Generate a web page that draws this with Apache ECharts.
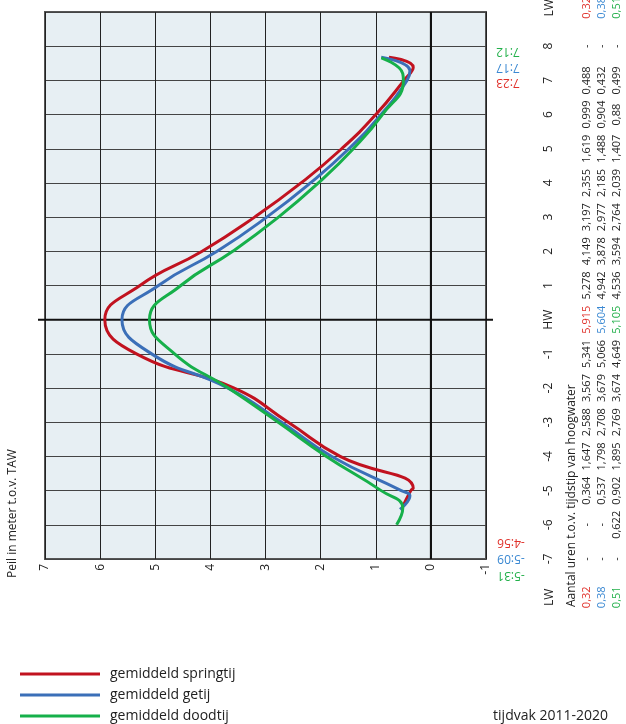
<!DOCTYPE html>
<html><head><meta charset="utf-8">
<script src="https://cdn.jsdelivr.net/npm/echarts@6/dist/echarts.min.js"></script>
<style>html,body{margin:0;padding:0;background:#fff}#c{width:626px;height:724px}</style>
</head><body><div id="c"></div>
<script>
// ---- data ----
const hours = [-7,-6,-5,-4,-3,-2,-1,0,1,2,3,4,5,6,7,8];
const hourLabels = ['-7','-6','-5','-4','-3','-2','-1','HW','1','2','3','4','5','6','7','8'];
const springtij = [null,null,0.364,1.647,2.588,3.567,5.341,5.915,5.278,4.149,3.197,2.355,1.619,0.999,0.488,null];
const getij     = [null,null,0.537,1.798,2.708,3.679,5.066,5.604,4.942,3.878,2.977,2.185,1.488,0.904,0.432,null];
const doodtij   = [null,0.622,0.902,1.895,2.769,3.674,4.649,5.105,4.536,3.594,2.764,2.039,1.407,0.88,0.499,null];
const lwValues  = [0.32, 0.38, 0.51];
const lwTimesStart = ['-4:56', '-5:09', '-5:31'];
const lwTimesEnd   = ['7:23', '7:17', '7:12'];
// estimated curve ends [hour, peil]
const curveStart = [[-5.5, 0.52], [-5.55, 0.56], null];
const curveEnd   = [[7.68, 0.76], [7.68, 0.9], [7.66, 0.9]];
const seriesNames = ['gemiddeld springtij','gemiddeld getij','gemiddeld doodtij'];
const lineColors = ['#c1121f','#3b6fb8','#16b04a'];
const textColors = ['#e0302a','#3a88d2','#22b04a'];

function parseT(t){ const s = t.trim().startsWith('-') ? -1 : 1; const p = t.replace('-','').split(':'); return s*(+p[0] + (+p[1])/60); }
function fmt(v){ return v == null ? '-' : String(v).replace('.', ','); }

const rows = [springtij, getij, doodtij];
function buildCurve(i){
  const pts = [];
  rows[i].forEach((v,k)=>{ if(v!=null) pts.push([v, hours[k]]); });
  pts.push([lwValues[i], parseT(lwTimesStart[i])]);
  pts.push([lwValues[i], parseT(lwTimesEnd[i])]);
  if (curveStart[i]) pts.push([curveStart[i][1], curveStart[i][0]]);
  if (curveEnd[i]) pts.push([curveEnd[i][1], curveEnd[i][0]]);
  pts.sort((a,b)=>a[1]-b[1]);
  return pts;
}

const FONT = "'Open Sans', 'Noto Sans', sans-serif";
const chart = echarts.init(document.getElementById('c'), null, {renderer:'canvas'});
const option = {
  animation: false,
  textStyle: {fontFamily: FONT},
  grid: {left: 45, right: 140, top: 12, bottom: 165, show: true, backgroundColor: '#e7eff3', borderColor: '#555', borderWidth: 2},
  xAxis: {
    type: 'value', min: -1, max: 7, interval: 1, inverse: true,
    axisLine: {show: false}, axisTick: {show: false},
    axisLabel: {rotate: 90, margin: 5, fontSize: 12, color: '#222', fontFamily: FONT},
    splitLine: {show: true, lineStyle: {color: '#222', width: 1}}
  },
  yAxis: {
    type: 'value', min: -7, max: 9, interval: 1, position: 'right',
    axisLine: {show: false}, axisTick: {show: false},
    axisLabel: {rotate: 90, margin: 57, fontSize: 12, color: '#222', fontFamily: FONT,
      formatter: v => { const i = hours.indexOf(v); return i >= 0 ? hourLabels[i] : ''; }},
    splitLine: {show: true, lineStyle: {color: '#444', width: 1}}
  },
  legend: {
    orient: 'vertical', left: 20, top: 667, padding: 0, itemWidth: 80, itemHeight: 3, itemGap: 7, icon: 'rect',
    textStyle: {fontSize: 14, color: '#222', fontFamily: FONT, padding: [0,0,0,5], lineHeight: 14},
    data: seriesNames
  },
  series: seriesNames.map((n,i)=>({
    name: n, type: 'line', data: buildCurve(i), smooth: 0.5, showSymbol: false, symbol: 'none',
    lineStyle: {width: 3, color: lineColors[i]}, itemStyle: {color: lineColors[i]}, z: 3 + i
  }))
};
chart.setOption(option);

// ---- annotations & table ----
const yPix = h => chart.convertToPixel({yAxisIndex: 0}, h);
const xPix = v => chart.convertToPixel({xAxisIndex: 0}, v);
const g = [];
function vtext(x, y, text, color, opts){
  opts = opts || {};
  g.push({type: 'text', x: x, y: y, rotation: opts.rot != null ? opts.rot : Math.PI/2, z: 10,
    style: {text: text, x: 0, y: 0, fill: color, font: (opts.size||11) + 'px ' + FONT,
      align: opts.align || 'center', textAlign: opts.align || 'center',
      verticalAlign: 'middle', textVerticalAlign: 'middle'}});
}
const gl = xPix(7), gr = xPix(-1), gt = yPix(9), gb = yPix(-7);
// reference lines
g.push({type:'line', z: 1, shape:{x1: gl - 7, y1: yPix(0), x2: gr + 7, y2: yPix(0)}, style:{stroke:'#111', lineWidth: 2}});
g.push({type:'line', z: 1, shape:{x1: xPix(0), y1: gt, x2: xPix(0), y2: gb}, style:{stroke:'#111', lineWidth: 2}});
// axis title
vtext(12.5, 578, 'Peil in meter t.o.v. TAW', '#222', {size: 12, align: 'left'});
// table
const colHdr = 550, colTitle = 571.5, cols = [586.5, 601.5, 617];
const lwHourBottom = -8.12, lwHourTop = 9.12;
vtext(colHdr, yPix(lwHourBottom), 'LW', '#222', {size: 12});
vtext(colHdr, yPix(lwHourTop), 'LW', '#222', {size: 12});
vtext(colTitle, 607, 'Aantal uren t.o.v. tijdstip van hoogwater', '#222', {size: 12, align: 'left'});
rows.forEach((r, i) => {
  vtext(cols[i], yPix(lwHourBottom), fmt(lwValues[i]), textColors[i]);
  vtext(cols[i], yPix(lwHourTop), fmt(lwValues[i]), textColors[i]);
  r.forEach((v, k) => {
    vtext(cols[i], yPix(hours[k]), fmt(v), hours[k] === 0 ? textColors[i] : '#222');
  });
});
// LW time labels (upside down)
const startY = [542.5, 558, 575], endY = [82, 67.5, 51];
rows.forEach((r, i) => {
  vtext(511, startY[i], lwTimesStart[i], textColors[i], {rot: Math.PI, size: 12});
  vtext(508, endY[i], lwTimesEnd[i], textColors[i], {rot: Math.PI, size: 12});
});
g.push({type:'text', z: 10, x: 608, y: 716, style:{text:'tijdvak 2011-2020', x:0, y:0, fill:'#222', font:'14px ' + FONT, align:'right', textAlign:'right', verticalAlign:'middle', textVerticalAlign:'middle'}});
chart.setOption({graphic: {elements: g}});
</script></body></html>
